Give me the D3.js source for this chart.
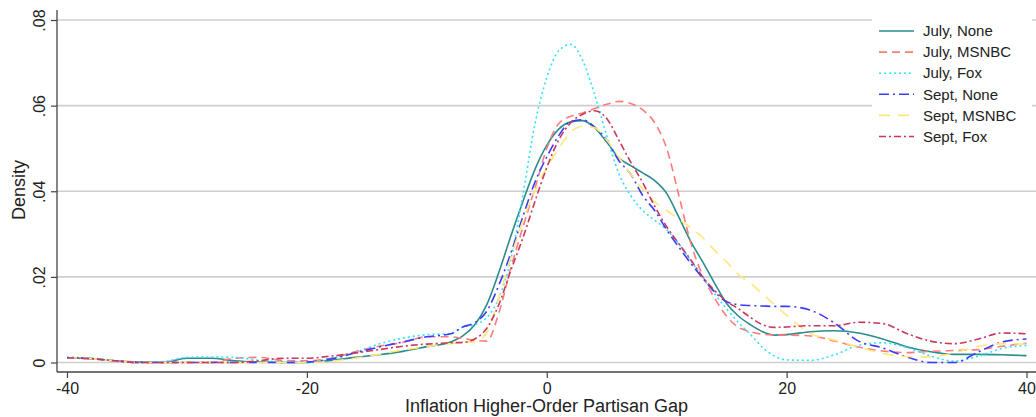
<!DOCTYPE html>
<html><head><meta charset="utf-8">
<script src="https://cdn.jsdelivr.net/npm/d3@7"></script>
<style>
html,body{margin:0;padding:0;background:#fff;}
svg{display:block;font-family:"Liberation Sans",Arial,Helvetica,sans-serif;}
</style></head>
<body><svg id="chart" width="1036" height="417"></svg>
<script>
const gapValues = [-40,-38,-36,-34,-32,-30,-28,-26,-24,-22,-20,-18,-16,-14,-12,-10,-8,-7,-6,-5,-4,-3,-2,-1,0,1,2,3,4,5,6,7,8,9,10,11,12,13,14,15,16,17,18,19,20,22,24,26,28,30,32,34,36,38,40];

const julyNone  = [0.0011,0.0009,0.0004,0.0001,0.0000,0.0010,0.0010,0.0004,0.0001,0.0000,0.0000,0.0005,0.0012,0.0018,0.0026,0.0037,0.0048,0.0062,0.0088,0.0135,0.0210,0.0295,0.0375,0.0450,0.0507,0.0545,0.0562,0.0565,0.0548,0.0515,0.0478,0.0460,0.0443,0.0425,0.0395,0.0340,0.0283,0.0235,0.0185,0.0138,0.0108,0.0088,0.0072,0.0064,0.0065,0.0072,0.0074,0.0069,0.0055,0.0037,0.0025,0.0019,0.0019,0.0018,0.0016];
const julyMSNBC = [0.0011,0.0009,0.0004,0.0000,0.0000,0.0000,0.0000,0.0010,0.0012,0.0005,0.0004,0.0010,0.0025,0.0038,0.0047,0.0060,0.0060,0.0056,0.0052,0.0050,0.0115,0.0220,0.0315,0.0405,0.0500,0.0558,0.0575,0.0583,0.0593,0.0603,0.0610,0.0605,0.0590,0.0560,0.0500,0.0392,0.0280,0.0203,0.0150,0.0108,0.0082,0.0072,0.0066,0.0064,0.0064,0.0062,0.0050,0.0036,0.0027,0.0023,0.0026,0.0028,0.0030,0.0038,0.0045];
const julyFox   = [0.0013,0.0010,0.0004,0.0000,0.0002,0.0012,0.0013,0.0012,0.0005,0.0001,0.0000,0.0010,0.0023,0.0043,0.0057,0.0065,0.0068,0.0083,0.0088,0.0105,0.0150,0.0240,0.0390,0.0555,0.0665,0.0728,0.0743,0.0705,0.0625,0.0530,0.0442,0.0390,0.0355,0.0332,0.0310,0.0278,0.0238,0.0200,0.0160,0.0125,0.0093,0.0065,0.0035,0.0015,0.0006,0.0005,0.0018,0.0040,0.0046,0.0035,0.0015,0.0003,0.0015,0.0033,0.0040];
const septNone  = [0.0011,0.0009,0.0004,0.0000,0.0000,0.0000,0.0000,0.0000,0.0000,0.0000,0.0001,0.0008,0.0022,0.0036,0.0048,0.0060,0.0067,0.0083,0.0093,0.0120,0.0180,0.0255,0.0340,0.0420,0.0480,0.0530,0.0563,0.0567,0.0550,0.0520,0.0472,0.0440,0.0390,0.0355,0.0310,0.0270,0.0232,0.0197,0.0165,0.0142,0.0135,0.0133,0.0132,0.0131,0.0131,0.0122,0.0092,0.0050,0.0034,0.0013,0.0000,0.0000,0.0025,0.0048,0.0055];
const septMSNBC = [0.0011,0.0009,0.0004,0.0000,0.0000,0.0000,0.0000,0.0000,0.0000,0.0000,0.0000,0.0003,0.0010,0.0019,0.0029,0.0037,0.0044,0.0047,0.0048,0.0070,0.0152,0.0245,0.0330,0.0400,0.0455,0.0500,0.0538,0.0552,0.0548,0.0520,0.0480,0.0440,0.0405,0.0375,0.0355,0.0335,0.0315,0.0292,0.0262,0.0235,0.0205,0.0185,0.0160,0.0135,0.0110,0.0068,0.0052,0.0036,0.0021,0.0014,0.0013,0.0023,0.0038,0.0044,0.0043];
const septFox   = [0.0011,0.0009,0.0004,0.0000,0.0000,0.0000,0.0000,0.0000,0.0004,0.0010,0.0010,0.0015,0.0022,0.0030,0.0038,0.0043,0.0046,0.0047,0.0055,0.0080,0.0135,0.0215,0.0290,0.0375,0.0455,0.0520,0.0560,0.0580,0.0588,0.0570,0.0520,0.0468,0.0420,0.0365,0.0317,0.0278,0.0240,0.0200,0.0168,0.0143,0.0125,0.0105,0.0088,0.0082,0.0083,0.0086,0.0086,0.0094,0.0091,0.0068,0.0050,0.0044,0.0055,0.0069,0.0067];

const seriesNames = ["July, None","July, MSNBC","July, Fox","Sept, None","Sept, MSNBC","Sept, Fox"];
const xTicks = [-40,-20,0,20,40];
const xTickLabels = ["-40","-20","0","20","40"];
const yTicks = [0,0.02,0.04,0.06,0.08];
const yTickLabels = ["0",".02",".04",".06",".08"];
const xTitle = "Inflation Higher-Order Partisan Gap";
const yTitle = "Density";

const seriesValues = [julyNone,julyMSNBC,julyFox,septNone,septMSNBC,septFox];
const colors = ["#2a8c8c","#ff7b7b","#2ee0ff","#3b3bff","#ffe77a","#c8385a"];
const dashes = [null,"8,5","2,3","10,4,2,4","11,8","7,3,2,3"];

const svg = d3.select("#chart");
const x = d3.scaleLinear().domain([-40,40]).range([67,1026.5]);
const y = d3.scaleLinear().domain([0,0.08]).range([362.5,20]);
const axisLeftX = 57, axisBottomY = 372;

// gridlines
svg.append("g").selectAll("line").data(yTicks).join("line")
  .attr("x1",axisLeftX).attr("x2",1036)
  .attr("y1",d=>y(d)).attr("y2",d=>y(d))
  .attr("stroke","#cfcfcf").attr("stroke-width",1.6);

// axes
const yAxis = d3.axisLeft(y).tickValues(yTicks).tickFormat((d,i)=>yTickLabels[i]).tickSize(6).tickPadding(4);
const gy = svg.append("g").attr("transform",`translate(${axisLeftX},0)`).call(yAxis);
gy.select(".domain").attr("d",`M0,10V${axisBottomY}`).attr("stroke","#444").attr("stroke-width",1.3);
gy.selectAll(".tick line").attr("stroke","#444").attr("stroke-width",1.2);
gy.selectAll(".tick text")
  .attr("x",0).attr("y",0).attr("dy",0)
  .attr("text-anchor","middle")
  .attr("transform","translate(-12,0) rotate(-90)")
  .style("font-size","16px").attr("fill","#222");

const xAxis = d3.axisBottom(x).tickValues(xTicks).tickFormat((d,i)=>xTickLabels[i]).tickSize(6).tickPadding(5);
const gx = svg.append("g").attr("transform",`translate(0,${axisBottomY})`).call(xAxis);
gx.select(".domain").attr("d",`M${axisLeftX},0H1036`).attr("stroke","#444").attr("stroke-width",1.3);
gx.selectAll(".tick line").attr("stroke","#444").attr("stroke-width",1.2);
gx.selectAll(".tick text").style("font-size","16px").attr("fill","#222").attr("dy","0.71em");

// lines
const line = d3.line().x((d,i)=>x(gapValues[i])).y(d=>y(d)).curve(d3.curveMonotoneX);
svg.append("g").selectAll("path").data(seriesValues).join("path")
  .attr("d",d=>line(d))
  .attr("fill","none")
  .attr("stroke",(d,i)=>colors[i])
  .attr("stroke-width",1.6)
  .attr("stroke-dasharray",(d,i)=>dashes[i]);

// titles
svg.append("text").attr("x",546.5).attr("y",412).attr("text-anchor","middle")
  .style("font-size","18px").attr("fill","#222").text(xTitle);
svg.append("text").attr("transform","translate(25,190) rotate(-90)").attr("text-anchor","middle")
  .style("font-size","18px").attr("fill","#222").text(yTitle);

// legend
const lg = svg.append("g");
lg.append("rect").attr("x",872).attr("y",8).attr("width",160).attr("height",152).attr("fill","#fff");
const rows = lg.selectAll("g").data(seriesNames).join("g")
  .attr("transform",(d,i)=>`translate(0,${31 + i*21.1})`);
rows.append("line").attr("x1",879).attr("x2",914).attr("y1",0).attr("y2",0)
  .attr("stroke",(d,i)=>colors[i]).attr("stroke-width",1.6)
  .attr("stroke-dasharray",(d,i)=>dashes[i]);
rows.append("text").attr("x",923).attr("y",0).attr("dy","0.35em")
  .style("font-size","15px").attr("fill","#222").text(d=>d);
</script></body></html>
